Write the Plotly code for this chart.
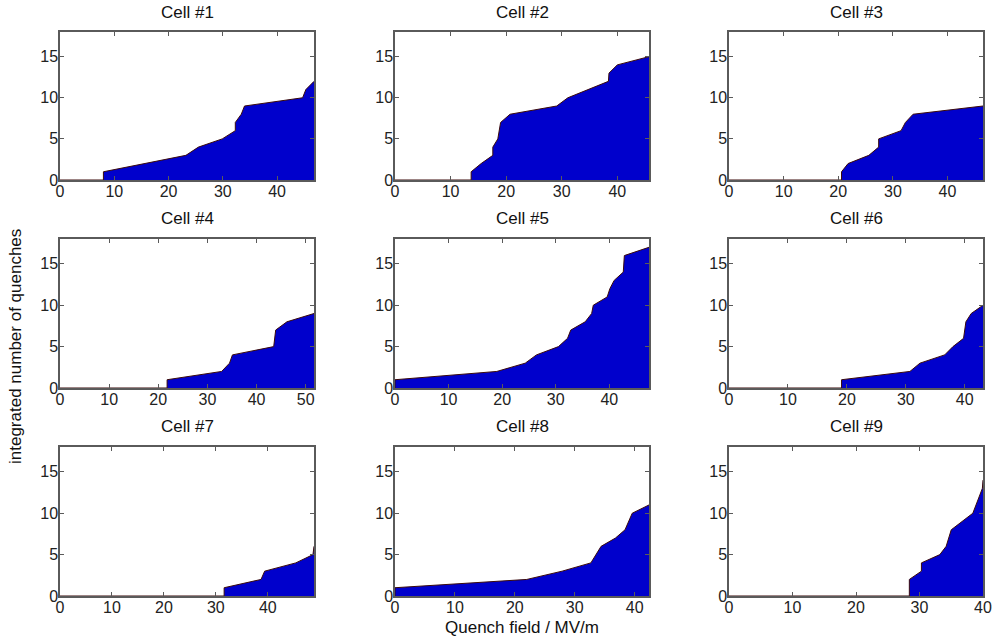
import plotly.graph_objects as go

# ---- data ----
titles = ["Cell #1", "Cell #2", "Cell #3", "Cell #4", "Cell #5",
          "Cell #6", "Cell #7", "Cell #8", "Cell #9"]

cell1_x = [0, 8.0, 8.0, 23.2, 25.5, 29.9, 32.3, 32.3, 33.4, 34.0, 44.7, 45.3, 46.8]
cell1_y = [0, 0, 1, 3, 4, 5, 6, 7, 8, 9, 10, 11, 12]

cell2_x = [0, 13.7, 13.7, 15.5, 17.6, 17.6, 18.5, 19.0, 20.7, 29.1, 31.1, 38.4, 38.5, 40.0, 45.7]
cell2_y = [0, 0, 1, 2, 3, 4, 5, 7, 8, 9, 10, 12, 13, 14, 15]

cell3_x = [0, 20.6, 20.6, 21.8, 25.6, 27.4, 27.4, 31.5, 32.3, 33.7, 46.5]
cell3_y = [0, 0, 1, 2, 3, 4, 5, 6, 7, 8, 9]

cell4_x = [0, 21.8, 21.8, 32.9, 34.5, 35.1, 43.5, 43.9, 46.2, 51.7]
cell4_y = [0, 0, 1, 2, 3, 4, 5, 7, 8, 9]

cell5_x = [0, 0, 19.0, 24.3, 26.4, 30.5, 32.2, 32.8, 35.5, 36.7, 37.0, 39.6, 40.1, 40.9, 42.6, 42.8, 47.4]
cell5_y = [0, 1, 2, 3, 4, 5, 6, 7, 8, 9, 10, 11, 12, 13, 14, 16, 17]

cell6_x = [0, 19.1, 19.1, 30.7, 32.4, 36.6, 38.0, 39.8, 40.2, 41.1, 43.1]
cell6_y = [0, 0, 1, 2, 3, 4, 5, 6, 8, 9, 10]

cell7_x = [0, 31.6, 31.6, 38.7, 39.4, 45.4, 48.7, 48.9]
cell7_y = [0, 0, 1, 2, 3, 4, 5, 6]

cell8_x = [0, 0, 22.0, 27.9, 32.7, 34.4, 36.8, 38.4, 39.6, 42.4]
cell8_y = [0, 1, 2, 3, 4, 6, 7, 8, 10, 11]

cell9_x = [0, 28.4, 28.4, 30.3, 30.3, 33.2, 34.2, 35.0, 38.4, 39.4, 39.9, 40.0]
cell9_y = [0, 0, 2, 3, 4, 5, 6, 8, 10, 12, 13, 14]

y_ticks = [0, 5, 10, 15]
y_max = 18
x_label = "Quench field / MV/m"
y_label = "integrated number of quenches"

cells_x = [cell1_x, cell2_x, cell3_x, cell4_x, cell5_x, cell6_x, cell7_x, cell8_x, cell9_x]
cells_y = [cell1_y, cell2_y, cell3_y, cell4_y, cell5_y, cell6_y, cell7_y, cell8_y, cell9_y]

# ---- layout geometry (pixels in a 995x641 canvas) ----
W, H = 995, 641
col_px = [(60, 314), (395, 649), (729, 983)]
row_px = [(32, 180), (239, 388), (447, 596)]

FONT = "Liberation Sans, Arial, Helvetica, sans-serif"
AXC = "#5a5a5a"

fig = go.Figure()
annotations = []
layout_axes = {}

for i in range(9):
    r, c = divmod(i, 3)
    n = i + 1
    xa = "x" if n == 1 else f"x{n}"
    ya = "y" if n == 1 else f"y{n}"
    fig.add_trace(go.Scatter(
        x=cells_x[i], y=cells_y[i], mode="lines",
        fill="tozeroy", fillcolor="#0000CC",
        line=dict(color="#3a0a0a", width=1),
        xaxis=xa, yaxis=ya, showlegend=False, hoverinfo="x+y",
    ))
    x0, x1 = col_px[c]
    t, b = row_px[r]
    xd = [x0 / W, x1 / W]
    yd = [1 - b / H, 1 - t / H]
    common = dict(
        showline=True, linecolor=AXC, linewidth=1.5, mirror="ticks",
        ticks="inside", ticklen=4, tickwidth=1, tickcolor=AXC,
        showgrid=False, zeroline=False, automargin=False,
        tickfont=dict(family=FONT, size=16, color="#222"),
    )
    layout_axes["xaxis" if n == 1 else f"xaxis{n}"] = dict(
        domain=xd, range=[0, max(cells_x[i])], tick0=0, dtick=10,
        anchor=ya, ticklabelstandoff=-4, **common)
    layout_axes["yaxis" if n == 1 else f"yaxis{n}"] = dict(
        domain=yd, range=[0, y_max], tickvals=y_ticks,
        anchor=xa, ticklabelstandoff=-3, **common)
    annotations.append(dict(
        text=titles[i], x=(xd[0] + xd[1]) / 2, y=yd[1], xref="paper", yref="paper",
        xanchor="center", yanchor="middle", yshift=20, showarrow=False,
        font=dict(family=FONT, size=17, color="#111")))

annotations.append(dict(
    text=x_label, x=522 / W, y=1 - 627 / H, xref="paper", yref="paper",
    xanchor="center", yanchor="middle", showarrow=False,
    font=dict(family=FONT, size=17, color="#111")))
annotations.append(dict(
    text=y_label, x=15 / W, y=1 - 347 / H, xref="paper", yref="paper",
    xanchor="center", yanchor="middle", textangle=-90, showarrow=False,
    font=dict(family=FONT, size=17, color="#111")))

fig.update_layout(
    width=W, height=H, margin=dict(l=0, r=0, t=0, b=0),
    paper_bgcolor="white", plot_bgcolor="white",
    annotations=annotations, **layout_axes)

fig.write_html(
    "out.html",
    config={"displayModeBar": False},
    post_script="document.body.style.margin='0';document.body.style.overflow='hidden';",
)
